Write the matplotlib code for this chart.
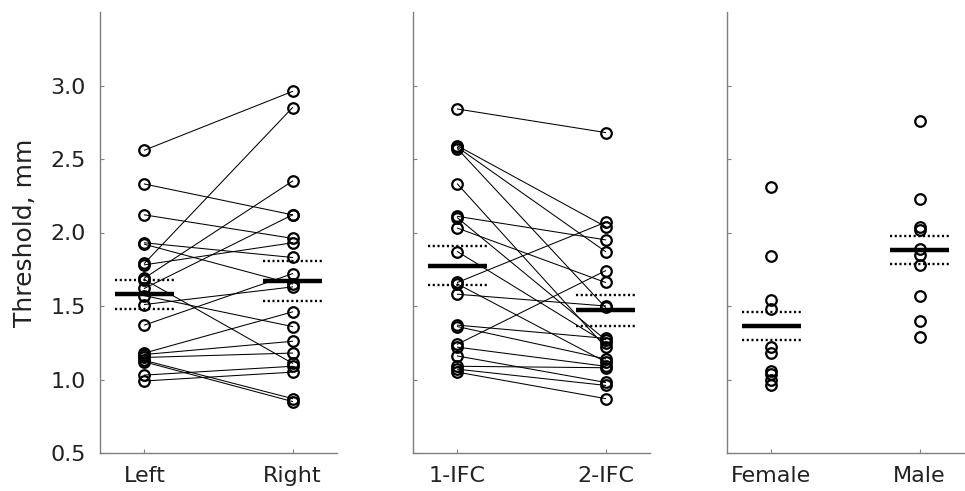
import numpy as np
import matplotlib
matplotlib.use("Agg")
import matplotlib.pyplot as plt

# panel 1: paired thresholds, left vs right
side_labels = ["Left", "Right"]
left_vals = [2.56, 2.33, 2.12, 1.93, 1.92, 1.79, 1.78, 1.69, 1.68, 1.62,
             1.57, 1.51, 1.37, 1.18, 1.17, 1.15, 1.13, 1.12, 1.03, 0.99]
right_vals = [2.96, 2.12, 1.96, 1.83, 1.65, 2.85, 1.93, 2.35, 1.11, 2.12,
              1.36, 1.63, 1.72, 1.46, 1.26, 1.18, 0.87, 0.85, 1.09, 1.05]
side_mean = [1.58, 1.67]
side_err = [0.10, 0.135]

# panel 2: paired thresholds, 1-IFC vs 2-IFC
task_labels = ["1-IFC", "2-IFC"]
ifc1_vals = [2.84, 2.59, 2.58, 2.57, 2.33, 2.11, 2.10, 2.03, 1.87, 1.66,
             1.65, 1.58, 1.37, 1.36, 1.24, 1.22, 1.16, 1.09, 1.07, 1.05]
ifc2_vals = [2.68, 2.04, 1.87, 1.49, 1.22, 1.95, 1.27, 1.66, 1.25, 2.07,
             1.12, 1.50, 1.28, 1.14, 1.74, 1.09, 0.98, 1.08, 0.96, 0.87]
task_mean = [1.775, 1.47]
task_err = [0.133, 0.108]

# panel 3: independent groups
sex_labels = ["Female", "Male"]
female_vals = [2.31, 1.84, 1.54, 1.48, 1.22, 1.18, 1.06, 1.04, 1.00, 0.96]
male_vals = [2.76, 2.23, 2.04, 2.02, 1.89, 1.85, 1.78, 1.57, 1.40, 1.29]
sex_mean = [1.365, 1.88]
sex_err = [0.095, 0.097]

W, H = 965, 491
fig = plt.figure(figsize=(W / 100, H / 100), dpi=100)

spine_col = "#7f7f7f"
lefts = [100, 413, 727]
axes = [fig.add_axes([l / W, 38 / H, 237 / W, 441 / H]) for l in lefts]

mk = dict(marker="o", ls="none", ms=7.6, mfc="none", mec="k", mew=1.6, zorder=3)


def style(ax, labels, first):
    ax.set_xlim(0.7, 2.3)
    ax.set_ylim(0.5, 3.5)
    ax.set_yticks(np.arange(0.5, 3.01, 0.5))
    ax.set_xticks([1, 2])
    ax.set_xticklabels(labels)
    for s in ["top", "right"]:
        ax.spines[s].set_visible(False)
    for s in ["left", "bottom"]:
        ax.spines[s].set_color(spine_col)
        ax.spines[s].set_linewidth(1.0)
    ax.tick_params(direction="in", length=3, width=0.8, color=spine_col,
                   labelsize=16, labelcolor="#222222")
    ax.tick_params(axis="y", pad=10)
    ax.tick_params(axis="x", pad=9)
    if first:
        ax.set_ylabel("Threshold, mm", fontsize=18, color="#222222", labelpad=10)
    else:
        ax.tick_params(axis="y", labelleft=False)


def summary(ax, means, errs):
    for x, m, e in zip([1, 2], means, errs):
        ax.plot([x - 0.2, x + 0.2], [m, m], color="k", lw=3.2, solid_capstyle="butt", zorder=4)
        for v in (m - e, m + e):
            ax.plot([x - 0.2, x + 0.2], [v, v], color="k", lw=1.7,
                    dashes=(0.9, 1.1), zorder=4)


def paired(ax, a, b):
    for ya, yb in zip(a, b):
        ax.plot([1, 2], [ya, yb], color="k", lw=0.75, zorder=2)
    ax.plot(np.ones(len(a)), a, **mk)
    ax.plot(np.full(len(b), 2), b, **mk)


paired(axes[0], left_vals, right_vals)
summary(axes[0], side_mean, side_err)
style(axes[0], side_labels, True)

paired(axes[1], ifc1_vals, ifc2_vals)
summary(axes[1], task_mean, task_err)
style(axes[1], task_labels, False)

ax = axes[2]
ax.plot(np.ones(len(female_vals)), female_vals, **mk)
ax.plot(np.full(len(male_vals), 2), male_vals, **mk)
summary(ax, sex_mean, sex_err)
style(ax, sex_labels, False)

fig.savefig("out.png", dpi=100)
